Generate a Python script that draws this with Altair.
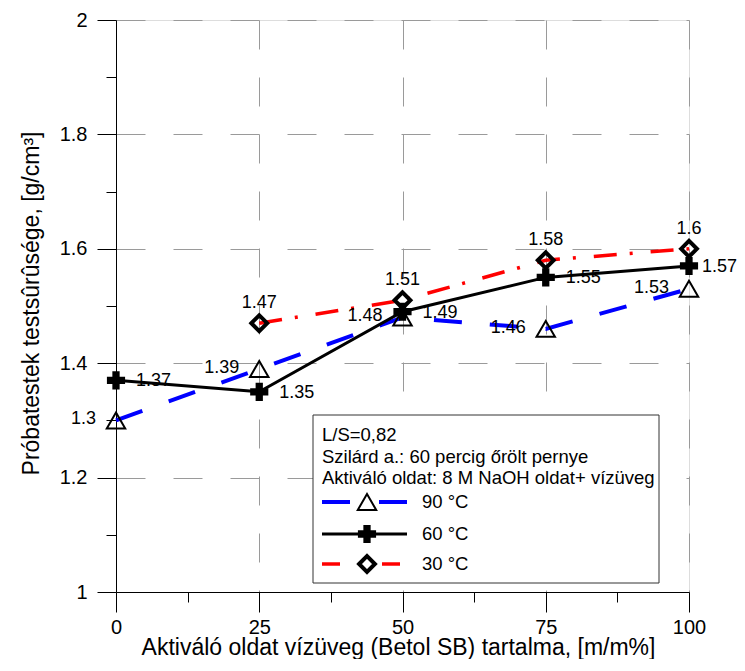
import altair as alt
import pandas as pd

# ---- data ----
x_vals = [0, 25, 50, 75, 100]
y_90 = [1.30, 1.39, 1.48, 1.46, 1.53]
y_60 = [1.37, 1.35, 1.49, 1.55, 1.57]
x_30 = [25, 50, 75, 100]
y_30 = [1.47, 1.51, 1.58, 1.60]
series_names = ["90 °C", "60 °C", "30 °C"]
info_lines = [
    "L/S=0,82",
    "Szilárd a.: 60 percig őrölt pernye",
    "Aktiváló oldat: 8 M NaOH oldat+ vízüveg",
]
x_title = "Aktiváló oldat vízüveg (Betol SB) tartalma, [m/m%]"
y_title = "Próbatestek testsûrûsége, [g/cm³]"
x_ticks = [0, 12.5, 25, 37.5, 50, 62.5, 75, 87.5, 100]
y_ticks = [1.0, 1.1, 1.2, 1.3, 1.4, 1.5, 1.6, 1.7, 1.8, 1.9, 2.0]

FONT = "Liberation Sans"

df = pd.concat([
    pd.DataFrame({"x": x_vals, "y": y_90, "s": series_names[0]}),
    pd.DataFrame({"x": x_vals, "y": y_60, "s": series_names[1]}),
    pd.DataFrame({"x": x_30, "y": y_30, "s": series_names[2]}),
], ignore_index=True)

x_major = "datum.value % 25 == 0"
y_major = "round(datum.value * 10) % 2 == 0"

X = alt.X(
    "x:Q",
    title=x_title,
    scale=alt.Scale(domain=[0, 100], nice=False, zero=False),
    axis=alt.Axis(
        values=x_ticks,
        labelExpr=f"{x_major} ? format(datum.value, '~g') : ''",
        labelFlush=False,
        labelOverlap=False,
        tickSize={"condition": {"test": x_major, "value": 20}, "value": 10},
        tickColor="black",
        domainColor="black",
        grid=True,
        gridDash=[29, 28],
        gridColor="#9a9a9a",
        gridWidth=1,
        gridOpacity={"condition": {"test": x_major, "value": 1}, "value": 0},
        labelFont=FONT,
        labelFontSize=20,
        labelColor="black",
        labelPadding=5,
        titleFont=FONT,
        titleFontSize=23,
        titleFontWeight="normal",
        titleColor="black",
        titleX=282,
        titleY=62,
        titleAlign="center",
        titleBaseline="alphabetic",
    ),
)
Y = alt.Y(
    "y:Q",
    title=y_title,
    scale=alt.Scale(domain=[1, 2], nice=False, zero=False),
    axis=alt.Axis(
        values=y_ticks,
        labelExpr=f"{y_major} ? format(datum.value, '~g') : ''",
        labelFlush=False,
        labelOverlap=False,
        tickSize={"condition": {"test": y_major, "value": 19}, "value": 10},
        tickColor="black",
        domainColor="black",
        grid=True,
        gridDash=[29, 28],
        gridColor="#9a9a9a",
        gridWidth=1,
        gridOpacity={"condition": {"test": y_major, "value": 1}, "value": 0},
        labelFont=FONT,
        labelFontSize=20,
        labelColor="black",
        labelPadding=10,
        titleFont=FONT,
        titleFontSize=23,
        titleFontWeight="normal",
        titleColor="black",
        titleX=-78,
        titleY=283,
        titleAlign="center",
        titleBaseline="alphabetic",
    ),
)

base = alt.Chart(df)


def sel(name):
    return base.transform_filter(alt.datum.s == name)


line90 = sel(series_names[0]).mark_line(color="#0000ff", strokeWidth=4, strokeDash=[28, 28]).encode(x=X, y=Y)
line30 = sel(series_names[2]).mark_line(color="#ff0000", strokeWidth=3.5, strokeDash=[23, 13, 3, 18]).encode(x=X, y=Y)
line60 = sel(series_names[1]).mark_line(color="black", strokeWidth=3).encode(x=X, y=Y)

pt90 = sel(series_names[0]).mark_point(shape="triangle-up", size=340, filled=False, color="black", strokeWidth=2, opacity=1).encode(x=X, y=Y)
pt60 = sel(series_names[1]).mark_point(shape="cross", size=330, filled=True, color="black", opacity=1).encode(x=X, y=Y)
pt30 = sel(series_names[2]).mark_point(shape="diamond", size=250, filled=False, color="black", strokeWidth=4, opacity=1).encode(x=X, y=Y)

lab_kw = dict(font=FONT, fontSize=18, color="black", baseline="middle")
TXT = alt.Text("y:Q", format="~g")
lab90 = sel(series_names[0]).mark_text(align="right", dx=-20, dy=-1, **lab_kw).encode(x=X, y=Y, text=TXT)
lab60 = sel(series_names[1]).transform_filter(alt.datum.x < 100).mark_text(align="left", dx=20, dy=1, **lab_kw).encode(x=X, y=Y, text=TXT)
lab60_last = sel(series_names[1]).transform_filter(alt.datum.x == 100).mark_text(align="left", dx=13, dy=1, **lab_kw).encode(x=X, y=Y, text=TXT)
lab30 = sel(series_names[2]).mark_text(align="center", dy=-20, **lab_kw).encode(x=X, y=Y, text=TXT)

# ---- legend box (drawn in pixel space of the plot area) ----
one = pd.DataFrame({"k": [0]})
LEG_FS = 18.5
legend_layers = []
legend_layers.append(
    alt.Chart(one).mark_rect(fill="white", stroke="#333333", strokeWidth=1).encode(
        x=alt.value(197), x2=alt.value(543), y=alt.value(395), y2=alt.value(563)
    )
)
for i, t in enumerate(info_lines):
    legend_layers.append(
        alt.Chart(one).mark_text(text=t, align="left", baseline="middle", font=FONT, fontSize=LEG_FS, color="black").encode(
            x=alt.value(206), y=alt.value(415 + 21.5 * i)
        )
    )

entry_y = [482, 514, 544]
# 90 °C
legend_layers += [
    alt.Chart(one).mark_rule(color="#0000ff", strokeWidth=4).encode(x=alt.value(206), x2=alt.value(234), y=alt.value(entry_y[0])),
    alt.Chart(one).mark_rule(color="#0000ff", strokeWidth=4).encode(x=alt.value(263), x2=alt.value(291), y=alt.value(entry_y[0])),
    alt.Chart(one).mark_point(shape="triangle-up", size=340, filled=False, color="black", strokeWidth=2, opacity=1).encode(x=alt.value(251), y=alt.value(entry_y[0])),
]
# 60 °C
legend_layers += [
    alt.Chart(one).mark_rule(color="black", strokeWidth=3).encode(x=alt.value(206), x2=alt.value(291), y=alt.value(entry_y[1])),
    alt.Chart(one).mark_point(shape="cross", size=330, filled=True, color="black", opacity=1).encode(x=alt.value(251), y=alt.value(entry_y[1])),
]
# 30 °C
legend_layers += [
    alt.Chart(one).mark_rule(color="#ff0000", strokeWidth=3.5).encode(x=alt.value(206), x2=alt.value(224), y=alt.value(entry_y[2])),
    alt.Chart(one).mark_rule(color="#ff0000", strokeWidth=3.5).encode(x=alt.value(266), x2=alt.value(284), y=alt.value(entry_y[2])),
    alt.Chart(one).mark_point(shape="diamond", size=250, filled=False, color="black", strokeWidth=4, opacity=1).encode(x=alt.value(251), y=alt.value(entry_y[2])),
]
for i, name in enumerate(series_names):
    legend_layers.append(
        alt.Chart(one).mark_text(text=name, align="left", baseline="middle", font=FONT, fontSize=LEG_FS, color="black").encode(
            x=alt.value(306), y=alt.value(entry_y[i])
        )
    )

chart = alt.layer(
    line90, line30, line60, pt90, pt60, pt30, lab90, lab60, lab60_last, lab30, *legend_layers
).properties(
    width=573,
    height=572,
    autosize=alt.AutoSizeParams(type="none"),
    padding={"left": 108, "top": 12, "right": 48, "bottom": 67},
).configure_view(stroke=None).configure(background="white")

chart.save("out.html", embed_options={"renderer": "svg", "actions": False})
